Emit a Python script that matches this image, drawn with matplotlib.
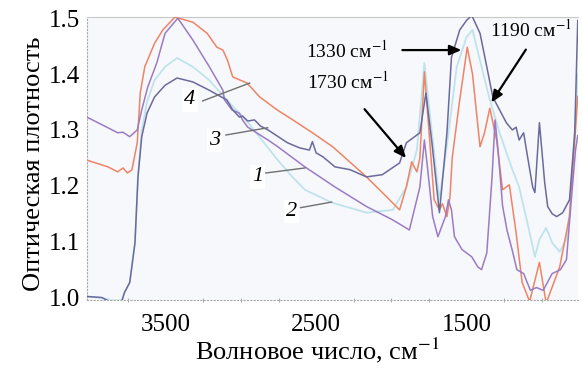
# imports
import matplotlib
matplotlib.use('Agg')
import matplotlib.pyplot as plt


# params
plt.rcParams['font.family'] = ['Liberation Serif', 'DejaVu Serif']
plt.rcParams['mathtext.fontset'] = 'stix'

_ticksize = 18
_labsize = 19
_annsize = 14
_numsize = 16


# data
# curve 1 (purple)
wn1 = [4025, 3885, 3820, 3785, 3740, 3690, 3660, 3620, 3560, 3505,
       3420, 3320, 3210, 3120, 3110, 3060, 3010, 2990, 2955, 2820,
       2755, 2575, 2375, 2165, 1990, 1880, 1810, 1780, 1760, 1725,
       1690, 1640, 1620, 1600, 1580, 1530, 1465, 1425, 1400, 1365,
       1330, 1310, 1290, 1260, 1230, 1195, 1165, 1120, 1075, 1035,
       990, 930, 875, 835, 805, 775, 760]
od1 = [1.323, 1.304, 1.295, 1.296, 1.288, 1.300, 1.336, 1.377, 1.420, 1.473,
       1.500, 1.461, 1.413, 1.371, 1.354, 1.336, 1.330, 1.318, 1.305, 1.282,
       1.270, 1.234, 1.198, 1.163, 1.139, 1.121, 1.198, 1.282, 1.234, 1.145,
       1.109, 1.145, 1.175, 1.157, 1.109, 1.086, 1.073, 1.055, 1.050, 1.080,
       1.216, 1.318, 1.264, 1.164, 1.120, 1.084, 1.050, 1.043, 1.013, 1.018,
       1.013, 1.043, 1.050, 1.068, 1.168, 1.264, 1.290]

# curve 2 (light blue)
wn2 = [4025, 3925, 3860, 3795, 3775, 3740, 3705, 3685, 3660, 3625,
       3575, 3505, 3425, 3320, 3210, 3095, 3010, 2955, 2855, 2755,
       2665, 2575, 2395, 2165, 1990, 1900, 1830, 1780, 1730, 1680,
       1630, 1565, 1500, 1460, 1400, 1345, 1280, 1195, 1150, 1080,
       1045, 1015, 970, 930, 880, 835, 815, 790, 760]
od2 = [1.002, 1.000, 0.995, 0.995, 1.009, 1.027, 1.098, 1.216, 1.300, 1.350,
       1.389, 1.413, 1.429, 1.413, 1.389, 1.354, 1.330, 1.314, 1.280, 1.246,
       1.218, 1.193, 1.170, 1.152, 1.157, 1.198, 1.264, 1.420, 1.295, 1.175,
       1.273, 1.413, 1.466, 1.479, 1.413, 1.354, 1.295, 1.229, 1.198, 1.116,
       1.073, 1.104, 1.125, 1.098, 1.082, 1.105, 1.150, 1.250, 1.400]

# curve 3 (dark slate)
wn3 = [4025, 3925, 3860, 3795, 3775, 3740, 3705, 3685, 3660, 3625,
       3575, 3505, 3425, 3320, 3210, 3130, 3095, 3055, 3010, 2990,
       2955, 2910, 2870, 2820, 2690, 2610, 2545, 2525, 2500, 2455,
       2375, 2275, 2165, 2060, 1945, 1900, 1810, 1770, 1730, 1680,
       1630, 1600, 1545, 1500, 1465, 1410, 1365, 1325, 1280, 1235,
       1195, 1170, 1150, 1120, 1100, 1060, 1045, 1015, 980, 960,
       930, 900, 860, 815, 780, 760]
od3 = [1.002, 1.000, 0.991, 0.991, 1.009, 1.027, 1.098, 1.216, 1.288, 1.330,
       1.359, 1.380, 1.393, 1.386, 1.371, 1.359, 1.354, 1.336, 1.323, 1.325,
       1.316, 1.318, 1.307, 1.300, 1.277, 1.268, 1.264, 1.279, 1.259, 1.252,
       1.234, 1.229, 1.216, 1.220, 1.241, 1.277, 1.295, 1.366, 1.277, 1.152,
       1.295, 1.430, 1.479, 1.496, 1.505, 1.473, 1.413, 1.359, 1.336, 1.313,
       1.300, 1.305, 1.282, 1.295, 1.262, 1.198, 1.188, 1.313, 1.206, 1.163,
       1.150, 1.145, 1.152, 1.175, 1.295, 1.496]

# curve 4 (orange)
wn4 = [4025, 3885, 3820, 3785, 3755, 3725, 3690, 3670, 3640, 3575,
       3520, 3440, 3320, 3225, 3160, 3120, 3090, 3055, 2960, 2875,
       2760, 2655, 2525, 2390, 2165, 2030, 1945, 1900, 1865, 1830,
       1810, 1780, 1745, 1715, 1680, 1660, 1630, 1610, 1595, 1545,
       1495, 1460, 1410, 1380, 1345, 1300, 1260, 1215, 1170, 1130,
       1080, 1015, 970, 880, 815, 760]
od4 = [1.246, 1.234, 1.225, 1.232, 1.223, 1.229, 1.277, 1.366, 1.413, 1.455,
       1.479, 1.502, 1.493, 1.473, 1.448, 1.443, 1.425, 1.395, 1.384, 1.359,
       1.336, 1.318, 1.295, 1.270, 1.216, 1.180, 1.157, 1.198, 1.243, 1.225,
       1.250, 1.404, 1.282, 1.175, 1.157, 1.168, 1.145, 1.180, 1.250, 1.354,
       1.448, 1.400, 1.270, 1.295, 1.339, 1.282, 1.193, 1.202, 1.116, 1.027,
       0.993, 1.063, 0.990, 1.055, 1.145, 1.360]

xticks = [3500, 2500, 1500]
yticks = [1.0, 1.1, 1.2, 1.3, 1.4, 1.5]

curve_labels = ['1', '2', '3', '4']
peak_labels = ['1730 см$^{-1}$', '1330 см$^{-1}$', '1190 см$^{-1}$']


# plot creation
fig = plt.figure(figsize=(5.83, 3.72), dpi=100)
ax = fig.add_axes([0.149, 0.194, 0.842, 0.76])
ax.set_facecolor('#f7f8fb')

## spectra
ax.plot(wn2, od2, '-', color='#bfe3ec', lw=1.3, zorder=2)
ax.plot(wn4, od4, '-', color='#ee8465', lw=1.1, zorder=3)
ax.plot(wn1, od1, '-', color='#9a7cc4', lw=1.1, zorder=4)
ax.plot(wn3, od3, '-', color='#6a6a9c', lw=1.1, zorder=5)

## curve numbers with leader lines
lab_txt = [(2890, 1.216), (2663, 1.154), (3175, 1.282), (3340, 1.354)]
lab_lead = [((2835, 1.223), (2575, 1.232)),
            ((2603, 1.161), (2397, 1.171)),
            ((3100, 1.291), (2822, 1.304)),
            ((3255, 1.352), (2942, 1.384))]
for lab, (tx, ty), (p0, p1) in zip(curve_labels, lab_txt, lab_lead):
    ax.text(tx, ty, lab, fontsize=_numsize, style='italic',
            ha='center', va='center', zorder=7,
            bbox=dict(boxstyle='square,pad=0.1', fc='white', ec='none'))
    ax.plot([p0[0], p1[0]], [p0[1], p1[1]], '-', color='#707070',
            lw=1.0, zorder=6)

## peak annotations
ann_txt = [(2560, 1.386), (2570, 1.443), (1345, 1.479)]
ann_arrow = [((2190, 1.341), (1890, 1.246)),
             ((1945, 1.443), (1515, 1.443)),
             ((1095, 1.448), (1345, 1.345))]
for lab, (tx, ty), (tail, tip) in zip(peak_labels, ann_txt, ann_arrow):
    ax.text(tx, ty, lab, fontsize=_annsize, ha='left', va='center', zorder=8)
    ax.annotate('', xy=tip, xytext=tail, zorder=8,
                arrowprops=dict(arrowstyle='-|>,head_length=0.7,head_width=0.3',
                                color='k', lw=1.6))

# axes
ax.set_xlim(4025, 760)
ax.set_ylim(0.996, 1.502)
ax.set_xticks(xticks)
ax.set_xticklabels([str(x) for x in xticks])
ax.set_yticks(yticks)
ax.set_yticklabels([f'{y:.1f}' for y in yticks])
ax.set_xticks(range(3750, 760, -250), minor=True)
ax.tick_params(axis='both', which='major', length=0, labelsize=_ticksize)
ax.tick_params(axis='x', which='major', pad=10)
ax.tick_params(axis='y', which='major', pad=5)
ax.tick_params(axis='x', which='minor', length=3, color='#a0a0a0', direction='inout')

for side in ['left', 'bottom']:
    ax.spines[side].set_linestyle((0, (1, 2)))
    ax.spines[side].set_color('#a8a8a8')
ax.spines['top'].set_color('#c8c8c8')
ax.spines['right'].set_visible(False)

ax.set_xlabel('Волновое число, см$^{-1}$', fontsize=_labsize, labelpad=0)
ax.set_ylabel('Оптическая плотность', fontsize=_labsize, labelpad=3)
ax.xaxis.label.set_x(0.47)
ax.yaxis.label.set_y(0.48)

# showing
fig.savefig('out.png', dpi=100)
